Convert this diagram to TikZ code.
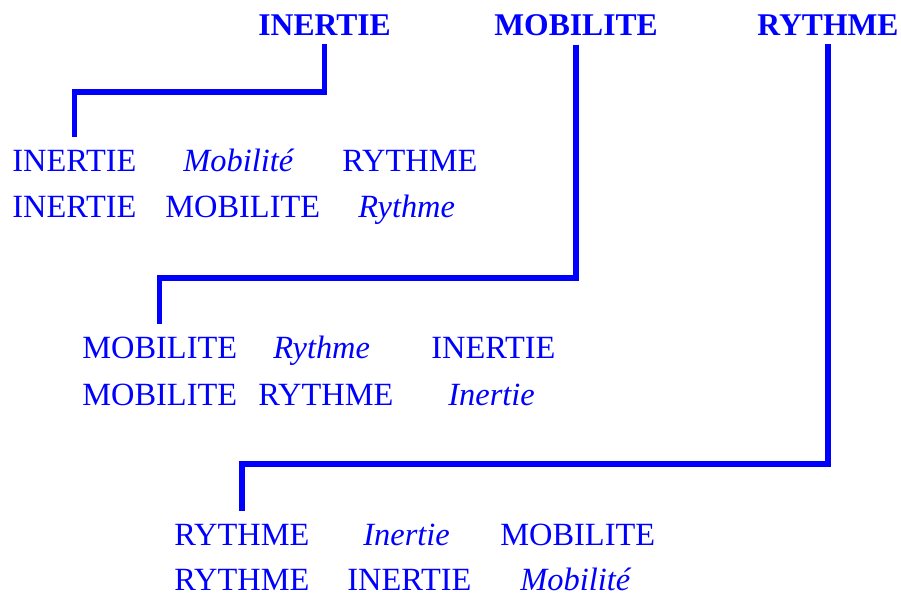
\documentclass[tikz,border=0pt]{standalone}
\usepackage{fontspec}
\setmainfont{Liberation Serif}
\begin{document}
\begin{tikzpicture}[x=0.5pt, y=-0.5pt,
   every node/.style={text=blue, inner sep=0pt, anchor=base west,
                      font=\fontsize{16.2}{19}\selectfont},
   titre/.style={font=\fontsize{15.8}{19}\selectfont\bfseries},
   faible/.style={font=\fontsize{16.2}{19}\selectfont\itshape},
   lien/.style={draw=blue, line width=2.7pt, shorten <=4.5pt, shorten >=6pt}]

\useasboundingbox (0,0) rectangle (901,595);

% titres
\node[titre] (inertie)  at (258,35) {INERTIE};
\node[titre] (mobilite) at (494,35) {MOBILITE};
\node[titre] (rythme)   at (757,35) {RYTHME};

% groupe inertie
\node (i1) at (12,171)  {INERTIE};
\node[faible] (i2) at (183,171) {Mobilité};
\node (i3) at (342,171) {RYTHME};
\node (i4) at (12,217)  {INERTIE};
\node (i5) at (165,217) {MOBILITE};
\node[faible] (i6) at (358,217) {Rythme};

% groupe mobilite
\node (m1) at (82,358)  {MOBILITE};
\node[faible] (m2) at (273,358) {Rythme};
\node (m3) at (431,358) {INERTIE};
\node (m4) at (82,405)  {MOBILITE};
\node (m5) at (258,405) {RYTHME};
\node[faible] (m6) at (448,405) {Inertie};

% groupe rythme
\node (r1) at (174,545) {RYTHME};
\node[faible] (r2) at (363,545) {Inertie};
\node (r3) at (500,545) {MOBILITE};
\node (r4) at (174,590) {RYTHME};
\node (r5) at (347,590) {INERTIE};
\node[faible] (r6) at (520,590) {Mobilité};

\coordinate (k1) at (0,92);
\coordinate (k2) at (0,278);
\coordinate (k3) at (0,464);

\draw[lien] (inertie.south)  |- (k1 -| i1.north) -- (i1.north);
\draw[lien] (mobilite.south) |- (k2 -| m1.north) -- (m1.north);
\draw[lien] (rythme.south)   |- (k3 -| r1.north) -- (r1.north);

\end{tikzpicture}
\end{document}
